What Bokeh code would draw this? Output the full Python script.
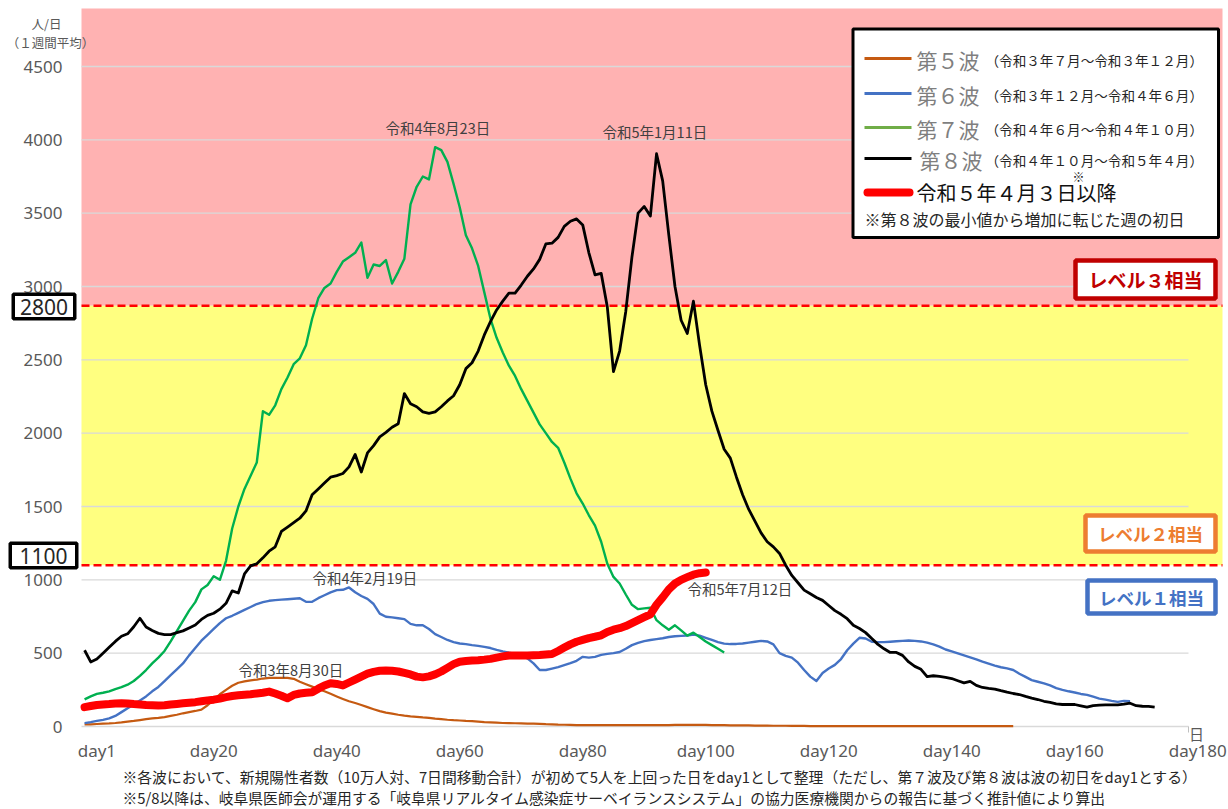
from bokeh.plotting import figure
from bokeh.models import Range1d
from bokeh.core.properties import value
from bokeh.embed import file_html
from bokeh.resources import INLINE

# ---------------- data ----------------
tick_days = [1, 20, 40, 60, 80, 100, 120, 140, 160, 180]
y_ticks = [0, 500, 1000, 1500, 2000, 2500, 3000, 3500, 4000, 4500]

wave5_vals = [14, 15, 17, 19, 21, 24, 28, 33, 38, 44, 50, 55, 59, 64, 72, 80, 90, 98, 106, 115,
              145, 182, 220, 250, 278, 298, 308, 315, 320, 327, 331, 332, 332, 332, 325, 305, 288, 272, 255, 240,
              223, 205, 188, 172, 160, 147, 132, 118, 105, 95, 88, 80, 74, 69, 66, 62, 59, 54, 50, 46,
              43, 41, 38, 36, 33, 30, 28, 26, 24, 23, 22, 21, 20, 19, 18, 16, 15, 13, 12, 11,
              10, 10, 9, 9, 9, 9, 9, 9, 9, 9, 9, 9, 10, 10, 10, 10, 11, 11, 11, 11,
              11, 11, 10, 10, 9, 8, 8, 7, 7, 6, 6, 6, 5, 5, 5, 4, 4, 4, 3, 3,
              3, 3, 3, 3, 3, 3, 3, 3, 3, 3, 3, 3, 3, 3, 3, 3, 3, 3, 3, 3,
              3, 3, 3, 3, 3, 3, 3, 3, 3, 3, 3, 3]
wave6_vals = [23, 30, 38, 45, 55, 72, 98, 125, 148, 178, 205, 240, 270, 310, 350, 390, 430, 485, 535, 585,
              625, 665, 705, 738, 755, 775, 795, 815, 835, 848, 857, 862, 865, 868, 871, 874, 850, 850, 875, 895,
              915, 930, 932, 948, 915, 890, 870, 835, 770, 748, 744, 738, 732, 700, 690, 690, 665, 630, 610, 590,
              575, 566, 562, 555, 550, 543, 535, 522, 512, 503, 495, 480, 465, 430, 385, 385, 395, 405, 418, 432,
              448, 475, 470, 475, 488, 495, 500, 508, 530, 555, 570, 582, 590, 596, 602, 610, 615, 618, 620, 626,
              620, 605, 590, 575, 565, 562, 563, 566, 572, 578, 584, 580, 560, 500, 482, 470, 435, 385, 340, 310,
              365, 395, 420, 460, 520, 565, 605, 600, 578, 575, 575, 578, 581, 584, 586, 584, 580, 572, 560, 545,
              525, 512, 498, 485, 472, 458, 442, 428, 415, 404, 396, 385, 360, 338, 316, 305, 294, 280, 262, 250,
              240, 232, 222, 216, 203, 190, 183, 175, 168, 175, 173]
wave7_vals = [185, 205, 222, 230, 240, 255, 268, 285, 310, 345, 385, 430, 470, 515, 580, 650, 720, 790, 848, 935,
              965, 1025, 1000, 1130, 1350, 1500, 1620, 1710, 1800, 2150, 2125, 2190, 2300, 2380, 2470, 2510, 2600, 2780, 2920, 2990,
              3020, 3100, 3170, 3200, 3230, 3300, 3060, 3150, 3140, 3180, 3020, 3100, 3190, 3560, 3680, 3750, 3730, 3950, 3930, 3850,
              3700, 3540, 3350, 3260, 3140, 2960, 2780, 2650, 2550, 2460, 2390, 2300, 2220, 2140, 2060, 2000, 1940, 1900, 1800, 1690,
              1590, 1520, 1440, 1370, 1260, 1110, 1020, 975, 900, 830, 800, 805, 810, 725, 690, 660, 690, 655, 620, 640,
              610, 580, 555, 530, 505]
wave8_vals = [520, 440, 460, 500, 540, 580, 615, 632, 680, 738, 678, 655, 635, 627, 627, 640, 652, 672, 692, 730,
              758, 772, 800, 840, 925, 910, 1040, 1095, 1110, 1150, 1195, 1225, 1330, 1360, 1390, 1420, 1470, 1580, 1620, 1660,
              1700, 1711, 1725, 1770, 1855, 1735, 1865, 1915, 1975, 2005, 2040, 2064, 2270, 2200, 2180, 2145, 2135, 2145, 2180, 2220,
              2255, 2330, 2440, 2480, 2560, 2670, 2760, 2840, 2900, 2955, 2955, 3010, 3070, 3120, 3185, 3290, 3295, 3335, 3410, 3445,
              3461, 3420, 3230, 3080, 3090, 2860, 2420, 2560, 2830, 3200, 3500, 3546, 3480, 3905, 3720, 3350, 3000, 2770, 2680, 2900,
              2600, 2330, 2150, 2018, 1890, 1830, 1700, 1580, 1480, 1400, 1320, 1260, 1225, 1180, 1100, 1030, 980, 930, 905, 880,
              860, 825, 790, 765, 735, 690, 668, 640, 600, 560, 530, 505, 505, 485, 440, 410, 390, 340, 346, 342,
              335, 327, 312, 297, 308, 280, 266, 260, 255, 244, 234, 225, 218, 205, 194, 184, 172, 164, 155, 150,
              150, 150, 141, 132, 142, 146, 148, 148, 148, 152, 159, 142, 138, 137, 132]
recent_vals = [132, 140, 147, 150, 153, 157, 159, 157, 153, 150, 147, 145, 143, 145, 150, 154, 158, 162, 166, 172,
               178, 183, 190, 200, 208, 213, 217, 220, 225, 230, 238, 225, 210, 192, 215, 225, 230, 234, 258, 280,
               295, 290, 280, 300, 320, 340, 360, 372, 380, 382, 380, 375, 365, 355, 340, 335, 342, 355, 375, 400,
               425, 442, 447, 450, 452, 456, 461, 470, 478, 484, 484, 484, 484, 486, 488, 491, 494, 515, 538, 560,
               578, 590, 603, 612, 622, 645, 660, 670, 685, 705, 725, 745, 765, 830, 880, 935, 975, 1000, 1018, 1035,
               1045, 1050]

level_lower = 1100
level_upper = 2800
level_upper_drawn = 2868   # where the reference draws the upper boundary

series_names = ["第５波", "第６波", "第７波", "第８波"]
series_periods = ["（令和３年７月～令和３年１２月）", "（令和３年１２月～令和４年６月）",
                  "（令和４年６月～令和４年１０月）", "（令和４年１０月～令和５年４月）"]
recent_name = "令和５年４月３日以降"
legend_note = "※第８波の最小値から増加に転じた週の初日"
note1 = "※各波において、新規陽性者数（10万人対、7日間移動合計）が初めて5人を上回った日をday1として整理（ただし、第７波及び第８波は波の初日をday1とする）"
note2 = "※5/8以降は、岐阜県医師会が運用する「岐阜県リアルタイム感染症サーベイランスシステム」の協力医療機関からの報告に基づく推計値により算出"

# ---------------- layout helpers (page pixels -> data) ----------------
W, H = 1228, 809
PX_PER_DAY = 6.15
PX_PER_UNIT = 660 / 4500
LEFT, BOTTOM = 81, 726          # left edge of the plot area, y pixel of value 0
RIGHT_GRID = 1188
RIGHT_BAND = 1222
TOP_BAND = 8
TICK_SHIFT = 2                  # day labels sit two categories right of their day


def X(px):
    return 0.5 + (px - LEFT) / PX_PER_DAY


def Y(py):
    return (BOTTOM - py) / PX_PER_UNIT


JP = "Noto Sans CJK JP"
GRAY = "#595959"
TXT = "#404040"

p = figure(width=W, height=H, x_range=Range1d(X(0), X(W)), y_range=Range1d(Y(H), Y(0)),
           output_backend="svg", toolbar_location=None, x_axis_type=None, y_axis_type=None,
           min_border=0)
p.outline_line_color = None
p.grid.visible = False
p.background_fill_color = "white"
p.border_fill_color = "white"


def txt(xs, ys, texts, size, color, font=JP, align="left", style="normal", baseline="middle"):
    p.text(x=xs, y=ys, text=texts, text_font=value(font), text_font_size=value(size),
           text_color=color, text_align=align, text_baseline=baseline, text_font_style=style)


# bands
p.quad(left=[X(LEFT)], right=[X(RIGHT_BAND)], top=[Y(TOP_BAND)], bottom=[level_upper_drawn],
       fill_color="#FFB2B2", line_color=None)
p.quad(left=[X(LEFT)], right=[X(RIGHT_BAND)], top=[level_upper_drawn], bottom=[level_lower],
       fill_color="#FFFF80", line_color=None)

# grid lines
p.segment(x0=[X(LEFT)] * len(y_ticks), x1=[X(RIGHT_GRID)] * len(y_ticks), y0=y_ticks, y1=y_ticks,
          line_color="#D9D9D9", line_width=1.3)
p.segment(x0=[X(RIGHT_GRID)], x1=[X(RIGHT_GRID)], y0=[0], y1=[Y(BOTTOM + 6)],
          line_color="#BFBFBF", line_width=1)

# level lines
p.segment(x0=[X(LEFT)] * 2, x1=[X(RIGHT_BAND)] * 2, y0=[level_lower, level_upper_drawn],
          y1=[level_lower, level_upper_drawn], line_color="#FF0000", line_width=2.5, line_dash="8 4")

# series
p.line(list(range(1, len(wave5_vals) + 1)), wave5_vals, line_color="#C55A11", line_width=2.2, line_join="round")
p.line(list(range(1, len(wave6_vals) + 1)), wave6_vals, line_color="#4472C4", line_width=2.4, line_join="round")
p.line(list(range(1, len(wave7_vals) + 1)), wave7_vals, line_color="#00B050", line_width=2.4, line_join="round")
p.line(list(range(1, len(wave8_vals) + 1)), wave8_vals, line_color="#000000", line_width=2.8, line_join="round")
p.line(list(range(1, len(recent_vals) + 1)), recent_vals, line_color="#FF0000", line_width=8,
       line_join="round", line_cap="round")

# date annotations
ann = [("令和4年8月23日", 385, 127), ("令和5年1月11日", 602, 131), ("令和4年2月19日", 312, 577),
       ("令和3年8月30日", 238, 669), ("令和5年7月12日", 687, 588)]
txt([X(a[1]) for a in ann], [Y(a[2]) for a in ann], [a[0] for a in ann], "14.5px", TXT)

# level boxes
levels = [("レベル３相当", "#C00000", 1073, 1217, 258, 300, "19px"),
          ("レベル２相当", "#ED7D31", 1083, 1217, 513, 553, "17.5px"),
          ("レベル１相当", "#4472C4", 1085, 1217, 578, 615, "17.5px")]
for t, c, l, r, tp, bt, fs in levels:
    p.quad(left=X(l + 2), right=X(r - 2), top=Y(tp + 2), bottom=Y(bt - 2), fill_color="white",
           line_color=c, line_width=4.5)
    txt([X((l + r) / 2)], [Y((tp + bt) / 2)], [t], fs, c, align="center", style="bold")

# legend
p.quad(left=X(852.5), right=X(1218), top=Y(28.5), bottom=Y(237), fill_color="white",
       line_color="black", line_width=3)
leg_colors = ["#C55A11", "#4472C4", "#70AD47", "#000000"]
leg_y = [58, 93, 127, 158]
leg_x = [916, 916, 916, 919]
p.segment(x0=[X(864)] * 4, x1=[X(911)] * 4, y0=[Y(v) for v in leg_y], y1=[Y(v) for v in leg_y],
          line_color=leg_colors, line_width=3.2)
txt([X(v) for v in leg_x], [Y(v + 1) for v in leg_y], series_names, "21px", "#7F7F7F")
txt([X(985)] * 4, [Y(v + 1) for v in leg_y], series_periods, "13.6px", "#262626")
p.segment(x0=[X(867)], x1=[X(909)], y0=[Y(192)], y1=[Y(192)], line_color="#FF0000",
          line_width=8, line_cap="round")
txt([X(916)], [Y(192)], [recent_name], "20px", "#111111")
txt([X(1078)], [Y(176)], ["※"], "12px", "#111111", align="center")
txt([X(864)], [Y(218)], [legend_note], "16px", "#262626")

# axis labels (drawn as text)
txt([d + TICK_SHIFT for d in tick_days], [Y(750)] * len(tick_days), ["day%d" % d for d in tick_days],
    "17px", GRAY, font="Noto Sans", align="center")
txt([X(62)] * len(y_ticks), y_ticks, [str(v) for v in y_ticks], "17px", GRAY, font="Noto Sans",
    align="right")
txt([X(46)], [Y(23)], ["人/日"], "12.5px", GRAY, align="center")
txt([X(50)], [Y(42)], ["（１週間平均）"], "12.5px", GRAY, align="center")
txt([X(1196)], [Y(733)], ["日"], "15px", GRAY, align="center")

# boxed threshold values
for label, l, r, tp, bt in ((str(level_upper), 11, 76, 292, 320), (str(level_lower), 8, 78, 541, 569)):
    p.quad(left=X(l + 1.75), right=X(r - 1.75), top=Y(tp + 1.75), bottom=Y(bt - 1.75),
           fill_color="white", line_color="black", line_width=3.5)
    txt([X((l + r) / 2)], [Y((tp + bt) / 2)], [label], "21px", "#262626", font="Noto Sans", align="center")

# notes
txt([X(122)], [Y(776)], [note1], "14.8px", "#262626")
txt([X(122)], [Y(797)], [note2], "14.8px", "#262626")

open("out.html", "w").write(file_html(p, INLINE))
